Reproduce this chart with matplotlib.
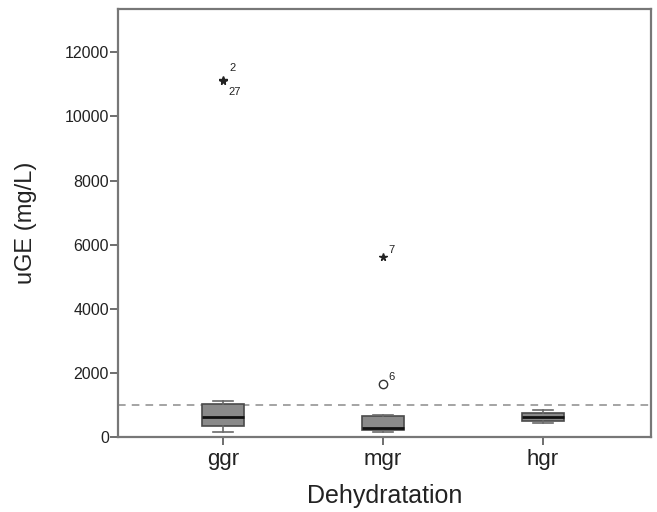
import matplotlib
matplotlib.use("Agg")
import matplotlib.pyplot as plt

# --- data ---
groups = ["ggr", "mgr", "hgr"]
whis_low = [160, 165, 445]
q1 = [340, 220, 510]
median = [620, 280, 615]
q3 = [1030, 660, 760]
whis_high = [1120, 690, 850]

# extreme values (stars) and outliers (circles): group index, value, case label
star_grp = [0, 0, 1]
star_val = [11150, 11100, 5610]
star_lab = ["2", "27", "7"]
circ_grp = [1]
circ_val = [1650]
circ_lab = ["6"]

threshold = 1000
yticks = [0, 2000, 4000, 6000, 8000, 10000, 12000]

plt.rcParams['font.family'] = ['Liberation Sans', 'DejaVu Sans']

fig = plt.figure(figsize=(6.57, 5.12), dpi=100)
ax = fig.add_axes([0.1796, 0.1465, 0.8113, 0.8359])

pos = [1, 2, 3]
stats = []
for i in range(len(groups)):
    stats.append(dict(whislo=whis_low[i], q1=q1[i], med=median[i],
                      q3=q3[i], whishi=whis_high[i], fliers=[]))

ax.bxp(stats, positions=pos, widths=0.26, patch_artist=True, showfliers=False,
       boxprops=dict(facecolor="#8a8a8a", edgecolor="#4a4a4a", linewidth=1.2),
       medianprops=dict(color="#111111", linewidth=2),
       whiskerprops=dict(color="#6a6a6a", linewidth=1.2),
       capprops=dict(color="#6a6a6a", linewidth=1.2),
       capwidths=0.13)

ax.axhline(threshold, color="#8c8c8c", linestyle=(0, (5, 4)), linewidth=1.1, zorder=0)

# stars (extreme values)
for g, v in zip(star_grp, star_val):
    ax.plot(pos[g], v, marker="*", color="#222222", markersize=5.5, linestyle="none")
ax.annotate(star_lab[0], (pos[0], star_val[0]), xytext=(5, 6), textcoords="offset points",
            fontsize=8, color="#222222")
ax.annotate(star_lab[1], (pos[0], star_val[1]), xytext=(4, -10), textcoords="offset points",
            fontsize=8, color="#222222")
ax.annotate(star_lab[2], (pos[1], star_val[2]), xytext=(4, 3), textcoords="offset points",
            fontsize=8, color="#222222")

# circles (outliers)
for g, v, lab in zip(circ_grp, circ_val, circ_lab):
    ax.plot(pos[g], v, marker="o", markerfacecolor="white", markeredgecolor="#333333",
            markersize=6, markeredgewidth=1, linestyle="none")
    ax.annotate(lab, (pos[g], v), xytext=(4, 3), textcoords="offset points",
                fontsize=8, color="#222222")

ax.set_xlim(0.344, 3.675)
ax.set_ylim(0, 13350)
ax.set_xticks(pos)
ax.set_xticklabels(groups, fontsize=16)
ax.set_yticks(yticks)
ax.set_yticklabels([str(t) for t in yticks], fontsize=11.5)

for s in ax.spines.values():
    s.set_color("#777777")
    s.set_linewidth(1.6)
ax.tick_params(axis="y", length=6, width=1.2, color="#555555", pad=0.5, labelcolor="#222222")
ax.tick_params(axis="x", length=6, width=1.2, color="#555555", pad=3, labelcolor="#222222")

ax.set_xlabel("Dehydratation", fontsize=18, color="#222222", labelpad=10)
ax.set_ylabel("uGE (mg/L)", fontsize=17, color="#222222", labelpad=20)

fig.savefig("out.png", dpi=100)
